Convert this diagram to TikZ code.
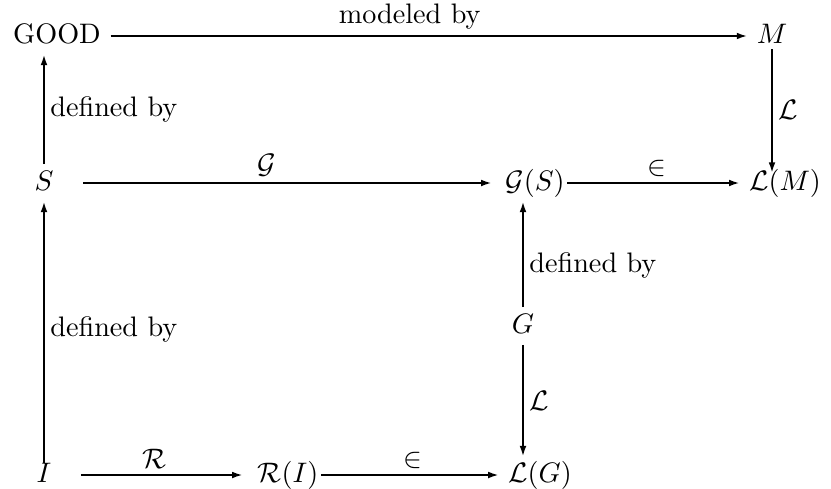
\documentclass[tikz,border=0pt]{standalone}
\usepackage{amsmath,amssymb}
\usepackage{tikz}
\usetikzlibrary{arrows.meta, positioning, calc}
\tikzset{
    obj/.style={inner xsep=3.3pt, inner ysep=1.5pt, text height=7.5pt, text depth=2.5pt},
    arrow/.style={line width=0.55pt, -{Latex[length=3.6pt,width=2.4pt]}},
    lbl/.style={inner sep=2pt}
}

\begin{document}
\begin{tikzpicture}[x=0.3546pt, y=-0.3546pt]
    \useasboundingbox (0,0) rectangle (831,488);
    % objects
    \node (good) [obj] at (57,36) {GOOD};
    \node (m) [obj] at (772,36) {$M$};
    \node (s) [obj] at (44,183) {$S$};
    \node (gs) [obj] at (535,183) {$\mathcal{G}(S)$};
    \node (lm) [obj] at (785,183) {$\mathcal{L}(M)$};
    \node (g) [obj] at (523,326) {$G$};
    \node (i) [obj] at (44,475) {$I$};
    \node (ri) [obj] at (288,475) {$\mathcal{R}(I)$};
    \node (lg) [obj] at (540,475) {$\mathcal{L}(G)$};

    % maps
    \draw [arrow] (good) -- (m) node [lbl, pos=0.47, above] {modeled by};
    \draw [arrow] (s.north) -- (s.north |- good.south) node [lbl, midway, right] {defined by};
    \draw [arrow, shorten <=-2pt, shorten >=-3pt] (m.south) -- (m.south |- lm.north) node [lbl, midway, right] {$\mathcal{L}$};
    \draw [arrow, shorten <=7pt, shorten >=1.5pt] (s) -- (gs) node [lbl, pos=0.47, above] {$\mathcal{G}$};
    \draw [arrow, shorten <=-2.5pt] (gs) -- (lm) node [lbl, midway, above] {$\in$};
    \draw [arrow, shorten <=-2.5pt] (i.north) -- (s.south) node [lbl, midway, right] {defined by};
    \draw [arrow] (g.north) -- (g.north |- gs.south) node [lbl, pos=0.4, right] {defined by};
    \draw [arrow] (g.south) -- (g.south |- lg.north) node [lbl, midway, right] {$\mathcal{L}$};
    \draw [arrow, shorten <=7pt, shorten >=2pt] (i) -- (ri) node [lbl, midway, above] {$\mathcal{R}$};
    \draw [arrow, shorten <=-2.5pt] (ri) -- (lg) node [lbl, midway, above] {$\in$};
\end{tikzpicture}
\end{document}
